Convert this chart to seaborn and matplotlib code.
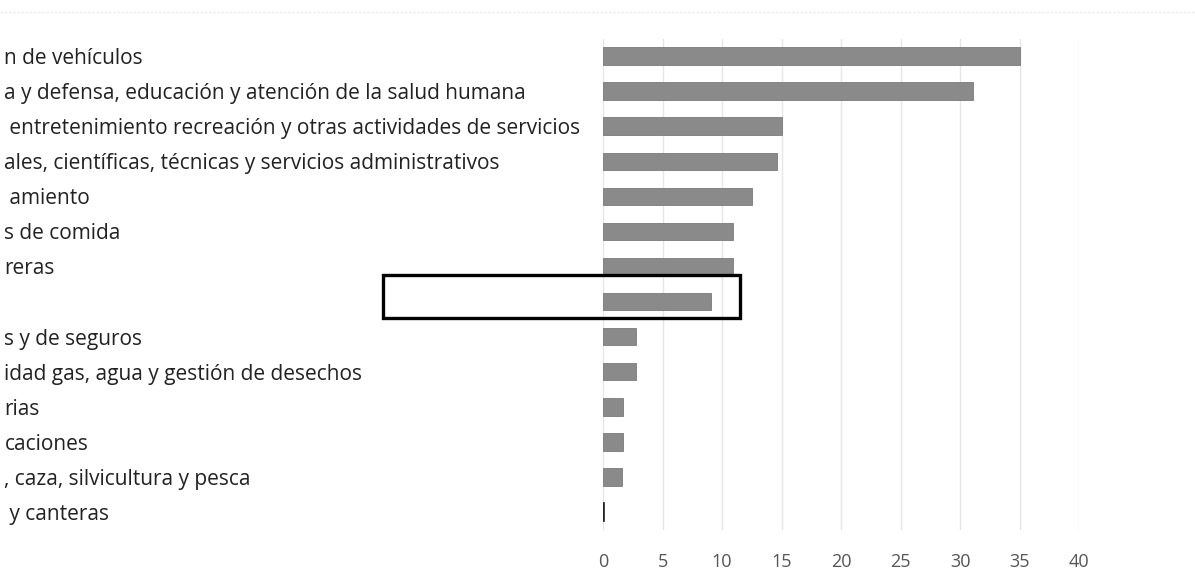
import matplotlib
matplotlib.use("Agg")
import matplotlib.pyplot as plt
from matplotlib.patches import Rectangle
from matplotlib.lines import Line2D
import seaborn as sns
import pandas as pd

# Sector labels (as they appear, cut at the left margin) and their values
sectors = [
    "n de vehículos",
    "a y defensa, educación y atención de la salud humana",
    " entretenimiento recreación y otras actividades de servicios",
    "ales, científicas, técnicas y servicios administrativos",
    " amiento",
    "s de comida",
    "reras",
    " ",
    "s y de seguros",
    "idad gas, agua y gestión de desechos",
    "rias",
    "caciones",
    ", caza, silvicultura y pesca",
    " y canteras",
]
values = [35.0, 31.1, 15.0, 14.6, 12.5, 10.9, 10.9, 9.1, 2.8, 2.8, 1.7, 1.7, 1.6, 0.1]
x_ticks = [0, 5, 10, 15, 20, 25, 30, 35, 40]

df = pd.DataFrame({"sector": sectors, "valor": values})

sns.set_theme(style="white")
plt.rcParams["font.family"] = ["Open Sans", "DejaVu Sans"]

fig = plt.figure(figsize=(11.95, 5.84), dpi=100)
ax = fig.add_axes([0.5046, 0.0933, 0.3984, 0.8407])

sns.barplot(data=df, x="valor", y="sector", order=sectors, color="#8a8a8a",
            width=0.5, saturation=1, edgecolor="#7a7a7a", linewidth=0.6, ax=ax)

# near-zero bar reads as a dark sliver
ax.patches[-1].set_facecolor("#222222")
ax.patches[-1].set_edgecolor("#222222")
ax.patches[-1].set_linewidth(1.2)

ax.set_xlim(0, 40)
ax.set_xticks(x_ticks)
ax.set_xticklabels([str(t) for t in x_ticks], color="#555555", fontsize=13)
ax.xaxis.grid(True, color="#e6e6e6", linewidth=1)
ax.set_axisbelow(True)
ax.set_xlabel("")
ax.set_ylabel("")

ax.set_yticks(range(len(sectors)))
ax.set_yticklabels(sectors, ha="left", fontsize=15, color="#222222")
ax.tick_params(axis="y", length=0, pad=431)
ax.tick_params(axis="x", length=0, pad=17)
for s in ax.spines.values():
    s.set_visible(False)

# outline around the highlighted row
box_x0, box_x1 = -18.5, 11.5
box_y0, box_y1 = 6.24, 7.47
ax.add_patch(Rectangle((box_x0, box_y0), box_x1 - box_x0, box_y1 - box_y0,
                       fill=False, edgecolor="black", linewidth=2.4, clip_on=False, zorder=5))

# faint frame line across the top
fig.add_artist(Line2D([0.0, 1.0], [0.98, 0.98], transform=fig.transFigure,
                      color="#ececec", linewidth=1, linestyle=(0, (2, 1))))

fig.savefig("out.png", dpi=100, facecolor="white")
